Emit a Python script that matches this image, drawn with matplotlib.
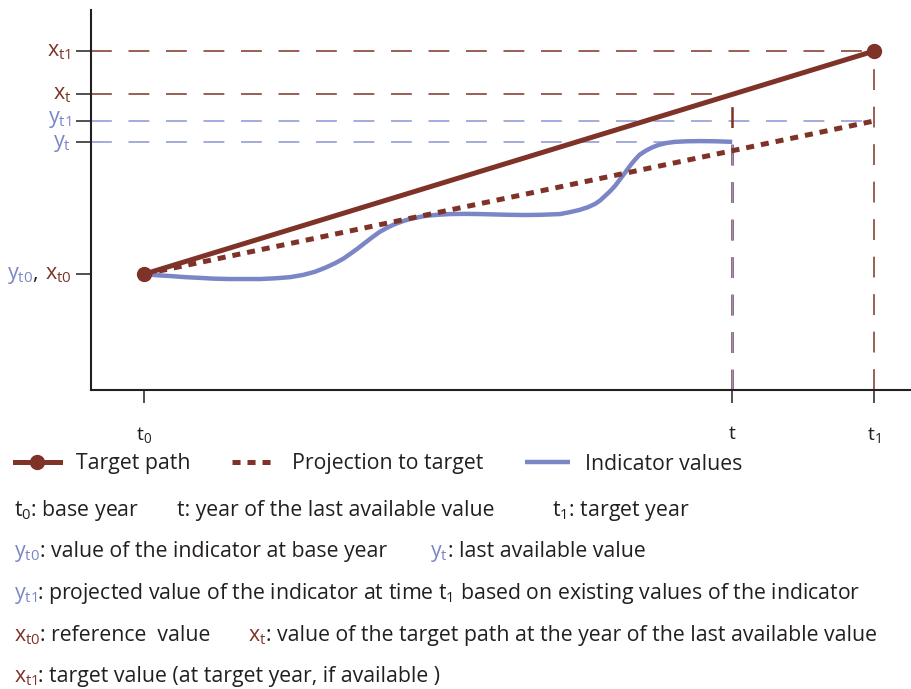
import numpy as np
import matplotlib
matplotlib.use('Agg')
import matplotlib.pyplot as plt

plt.rcParams['font.family'] = ['Open Sans', 'DejaVu Sans']
plt.rcParams['mathtext.fontset'] = 'custom'
plt.rcParams['mathtext.rm'] = 'Open Sans'
plt.rcParams['mathtext.it'] = 'Open Sans'
plt.rcParams['mathtext.default'] = 'rm'
plt.rcParams['lines.scale_dashes'] = False

BROWN = '#7f3328'
BLUE = '#7b86c6'
GUIDE_BLUE = '#8a94d2'
DARK = '#231f20'

#%% Schematic values (0-100 scale on both axes)
t0, t, t1 = 6.5, 78.2, 95.5           # base year, last available year, target year
x_t0, x_t, x_t1 = 30.5, 77.8, 89.2    # target path values
y_t0, y_t, y_t1 = 30.5, 65.3, 70.8    # indicator values (y_t1 = projection)

# indicator values
ind_time = [6.5, 8.0, 9.6, 11.5, 13.3, 15.0, 17.0, 19.0, 20.6, 22.5, 24.3, 25.9, 27.3,
            28.6, 29.8, 30.8, 31.6, 32.5, 33.4, 34.3, 35.2, 36.2, 37.1, 38.0, 38.9,
            39.8, 40.7, 42.2, 43.8, 45.6, 47.4, 49.2, 51.1, 53.0, 54.8, 56.0, 57.2,
            58.4, 59.6, 60.6, 61.5, 62.1, 62.7, 63.3, 63.9, 64.5, 65.1, 65.7, 66.3,
            66.9, 67.6, 68.4, 69.2, 70.2, 71.2, 72.7, 74.3, 76.2, 78.2]
ind_val = [30.5, 30.2, 30.0, 29.7, 29.5, 29.3, 29.2, 29.2, 29.2, 29.4, 29.7, 30.3, 31.1,
           32.2, 33.4, 34.6, 35.8, 37.2, 38.7, 40.2, 41.6, 42.8, 43.7, 44.4, 45.0,
           45.4, 45.8, 46.1, 46.3, 46.35, 46.3, 46.2, 46.1, 46.05, 46.1, 46.2, 46.3,
           46.8, 47.4, 48.1, 49.0, 49.9, 51.1, 52.3, 53.7, 55.4, 57.1, 58.9, 60.5,
           61.9, 62.9, 63.8, 64.5, 65.0, 65.3, 65.45, 65.5, 65.45, 65.3]

x_tick_labels = ['t$_0$', 't', 't$_1$']

FS = 15.3  # text size below the chart

#%% Figure
fig = plt.figure(figsize=(9.11, 6.89), dpi=100)
ax = fig.add_axes([91/911, 299/689, 820/911, 380/689])
ax.set_xlim(0, 100)
ax.set_ylim(0, 100)

dash = (0, (15, 12))
guide = dict(lw=1.1, ls=dash, zorder=1)
ax.plot([0, t1], [x_t1, x_t1], color=BROWN, **guide)
ax.plot([0, t], [x_t, x_t], color=BROWN, **guide)
ax.plot([0, t1], [y_t1, y_t1], color=GUIDE_BLUE, **guide)
ax.plot([0, t], [y_t, y_t], color=GUIDE_BLUE, **guide)
ax.plot([t, t], [0, x_t], color=BROWN, lw=1.8, ls=dash, zorder=1)
ax.plot([t, t], [0, y_t], color=GUIDE_BLUE, lw=1.0, ls=dash, zorder=1)
ax.plot([t1, t1], [0, x_t1], color=BROWN, **guide)

l_ind, = ax.plot(ind_time, ind_val, color=BLUE, lw=3.2, zorder=2,
                 solid_capstyle='butt', solid_joinstyle='round',
                 label='Indicator values')
l_proj, = ax.plot([t0, t1], [y_t0, y_t1], color=BROWN, lw=3.6, ls=(0, (5.8, 5.0)),
                  zorder=3, label='Projection to target')
l_tar, = ax.plot([t0, t1], [x_t0, x_t1], color=BROWN, lw=3.6, marker='o', ms=10,
                 zorder=4, label='Target path')

for side in ['top', 'right']:
    ax.spines[side].set_visible(False)
for side in ['left', 'bottom']:
    ax.spines[side].set_linewidth(1.5)
    ax.spines[side].set_color(DARK)

ax.set_xticks([t0, t, t1])
ax.set_xticklabels(x_tick_labels)
ax.tick_params(axis='x', length=9.4, width=1.1, pad=16, labelsize=14, colors=DARK)
ax.set_yticks([x_t0, y_t, y_t1, x_t, x_t1])
ax.set_yticklabels([])
ax.tick_params(axis='y', length=11, width=1.1, colors=DARK)

# y tick labels (coloured)
ytr = ax.get_yaxis_transform()
for val, off, s, c in [(x_t1, 1.4, 'x$_{t1}$', BROWN), (x_t, 1.4, 'x$_{t}$', BROWN),
                       (y_t1, 0.6, 'y$_{t1}$', BLUE), (y_t, 1.4, 'y$_{t}$', BLUE)]:
    ax.text(-0.024, val - off, s, transform=ytr, ha='right', va='baseline',
            fontsize=15.5, color=c)
lab = ax.text(-0.024, x_t0 - 1.4, 'x$_{t0}$', transform=ytr, ha='right',
              va='baseline', fontsize=15.5, color=BROWN)
for s, c in [(', ', DARK), ('y$_{t0}$', BLUE)]:
    lab = ax.annotate(s, xy=(0, x_t0 - 1.4), xycoords=(lab, ytr), ha='right',
                      va='baseline', fontsize=15.5, color=c)

#%% Legend
fig.legend(handles=[l_tar, l_proj, l_ind], loc='center left',
           bbox_to_anchor=(15/911, 1 - 464/689), ncol=3, frameon=False,
           fontsize=FS, labelcolor=DARK, handlelength=2.1, handletextpad=0.75,
           columnspacing=1.95, borderpad=0, borderaxespad=0)

#%% Explanations below the chart
def rich_line(x_px, base_px, pieces, size=FS):
    y = 1 - base_px/689
    prev = fig.text(x_px/911, y, pieces[0][0], color=pieces[0][1], fontsize=size,
                    va='baseline')
    for s, c in pieces[1:]:
        prev = ax.annotate(s, xy=(1, y), xycoords=(prev, 'figure fraction'),
                           ha='left', va='baseline', fontsize=size, color=c)

rich_line(14, 516, [('t$_0$: base year', DARK)])
rich_line(177, 516, [('t: year of the last available value', DARK)])
rich_line(552, 516, [('t$_1$: target year', DARK)])
rich_line(14, 557, [('y$_{t0}$', BLUE), (': value of the indicator at base year', DARK)])
rich_line(430, 557, [('y$_{t}$', BLUE), (': last available value', DARK)])
rich_line(14, 599, [('y$_{t1}$', BLUE),
                    (': projected value of the indicator at time t$_1$ based on existing values of the indicator', DARK)])
rich_line(14, 641, [('x$_{t0}$', BROWN), (': reference  value', DARK)])
rich_line(248, 641, [('x$_{t}$', BROWN),
                     (': value of the target path at the year of the last available value', DARK)])
rich_line(14, 682, [('x$_{t1}$', BROWN), (': target value (at target year, if available )', DARK)])

fig.savefig('out.png', dpi=100)
